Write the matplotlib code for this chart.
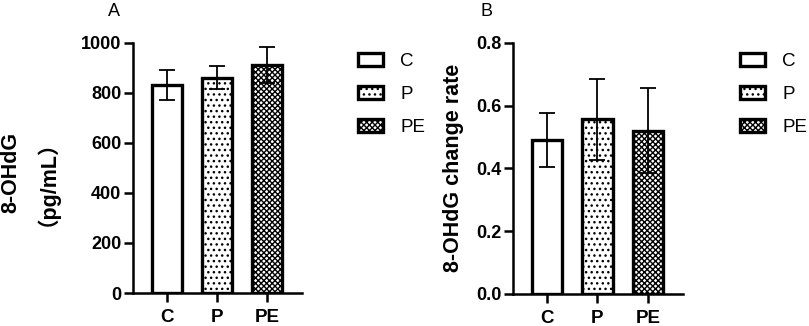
import matplotlib
matplotlib.use("Agg")
import matplotlib.pyplot as plt
from matplotlib.patches import Patch

categories = ['C', 'P', 'PE']
a_means = [831, 860, 911]
a_errs = [59, 46, 71]
b_means = [0.49, 0.556, 0.52]
b_errs = [0.087, 0.128, 0.135]
a_yticks = [0, 200, 400, 600, 800, 1000]
b_yticks = [0.0, 0.2, 0.4, 0.6, 0.8]

hatches = ['', '...', 'xxxxxx']

plt.rcParams['font.family'] = ['Liberation Sans', 'Noto Sans CJK SC', 'DejaVu Sans']
plt.rcParams['hatch.linewidth'] = 1.0

fig = plt.figure(figsize=(8.09, 3.26), dpi=100)
W, H = 809, 326

def make_axes(left, right, top, bottom):
    return fig.add_axes([left / W, 1 - bottom / H, (right - left) / W, (bottom - top) / H])

axA = make_axes(133, 302, 42.7, 293)
axB = make_axes(513, 683, 42.7, 294)

def draw(ax, means, errs, yticks, fmt):
    x = list(range(len(categories)))
    for i in x:
        ax.bar(i, means[i], width=0.6, facecolor='white', edgecolor='black',
               linewidth=2.4, hatch=hatches[i], zorder=2)
    ax.errorbar(x, means, yerr=errs, fmt='none', ecolor='black', elinewidth=1.3,
                capsize=5.5, capthick=1.3, zorder=3)
    ax.set_xlim(-0.68, 2.7)
    ax.set_ylim(yticks[0], yticks[-1])
    ax.set_yticks(yticks)
    ax.set_yticklabels([fmt(v) for v in yticks], fontweight='bold', fontsize=13)
    ax.set_xticks(x)
    ax.set_xticklabels(categories, fontweight='bold', fontsize=13.5)
    for s in ['top', 'right']:
        ax.spines[s].set_visible(False)
    for s in ['left', 'bottom']:
        ax.spines[s].set_linewidth(1.8)
    ax.tick_params(axis='both', length=6.5, width=1.8, pad=2)
    ax.tick_params(axis='x', pad=5)

draw(axA, a_means, a_errs, a_yticks, lambda v: f"{v:d}")
draw(axB, b_means, b_errs, b_yticks, lambda v: f"{v:.1f}")

# Panel A y label (two lines)
fig.text(11 / W, 1 - 172 / H, "8-OHdG", rotation=90, fontweight='bold', fontsize=15.5,
         ha='center', va='center')
fig.text(36 / W, 1 - 172 / H, "（pg/mL）", rotation=90, fontweight='bold', fontsize=15.5,
         ha='center', va='center')

axB.set_ylabel("8-OHdG change rate", fontweight='bold', fontsize=15.5)
axB.yaxis.set_label_coords(-0.29, 0.5)

fig.text(114 / W, 1 - 12 / H, "A", fontsize=13, ha='center', va='center')
fig.text(487 / W, 1 - 12 / H, "B", fontsize=13, ha='center', va='center')

handles = [Patch(facecolor='white', edgecolor='black', linewidth=2.4, hatch=h) for h in hatches]
for xpos in [358, 740]:
    fig.legend(handles, categories, loc='upper left',
               bbox_to_anchor=(xpos / W, 1 - 53 / H), frameon=False, fontsize=13.5,
               handlelength=1.35, handleheight=0.65, handletextpad=0.9,
               labelspacing=0.85, borderpad=0, borderaxespad=0)

fig.savefig("out.png", dpi=100)
